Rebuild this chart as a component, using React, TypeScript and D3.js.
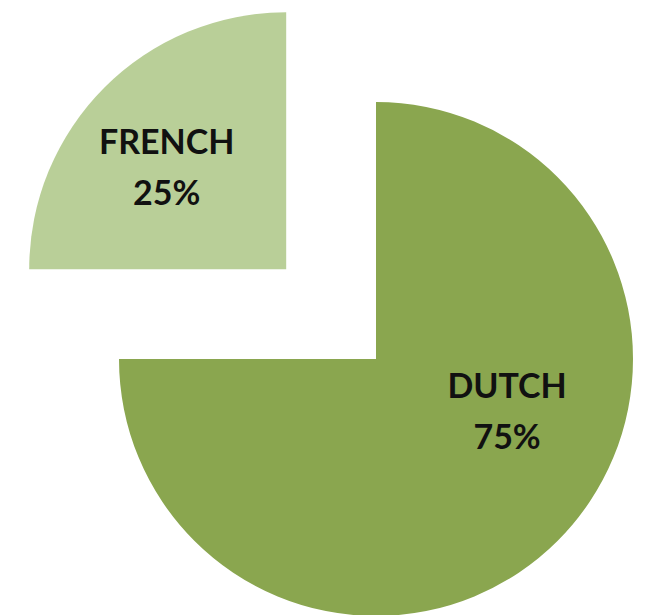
import React from "react";
import * as d3 from "d3";

const categories = ["DUTCH", "FRENCH"];
const values = [75, 25];
const percentLabels = ["75%", "25%"];
const colors = ["#8aa64f", "#b9cf98"];
const explode = [0, 127];
// label offsets relative to slice center, as fraction of radius
const labelDx = [0.51, -0.465];
const labelDy = [0.2, -0.4];

const W = 646;
const H = 615;
const cx = 376;
const cy = 359;
const R = 257;

export default function App() {
  const pie = d3
    .pie<number>()
    .sort(null)
    .startAngle(0)
    .endAngle(2 * Math.PI)
    .value((d) => d);
  const arcs = pie(values);
  const arcGen = d3.arc<d3.PieArcDatum<number>>().innerRadius(0).outerRadius(R);

  return (
    <svg
      width={W}
      height={H}
      style={{ position: "absolute", left: 0, top: 0, background: "#fff" }}
      fontFamily="Lato, 'Open Sans', sans-serif"
    >
      <rect width={W} height={H} fill="#fff" />
      {arcs.map((a, i) => {
        const mid = (a.startAngle + a.endAngle) / 2;
        const ox = Math.sin(mid) * explode[i];
        const oy = -Math.cos(mid) * explode[i];
        const lx = labelDx[i] * R;
        const ly = labelDy[i] * R;
        return (
          <g key={categories[i]} transform={`translate(${cx + ox},${cy + oy})`}>
            <path d={arcGen(a) || ""} fill={colors[i]} />
            <text
              x={lx}
              y={ly - 12}
              textAnchor="middle"
              fontSize={34}
              fontWeight={700}
              fill="#111"
            >
              {categories[i]}
            </text>
            <text
              x={lx}
              y={ly + 39}
              textAnchor="middle"
              fontSize={34}
              fontWeight={700}
              fill="#111"
            >
              {percentLabels[i]}
            </text>
          </g>
        );
      })}
    </svg>
  );
}
